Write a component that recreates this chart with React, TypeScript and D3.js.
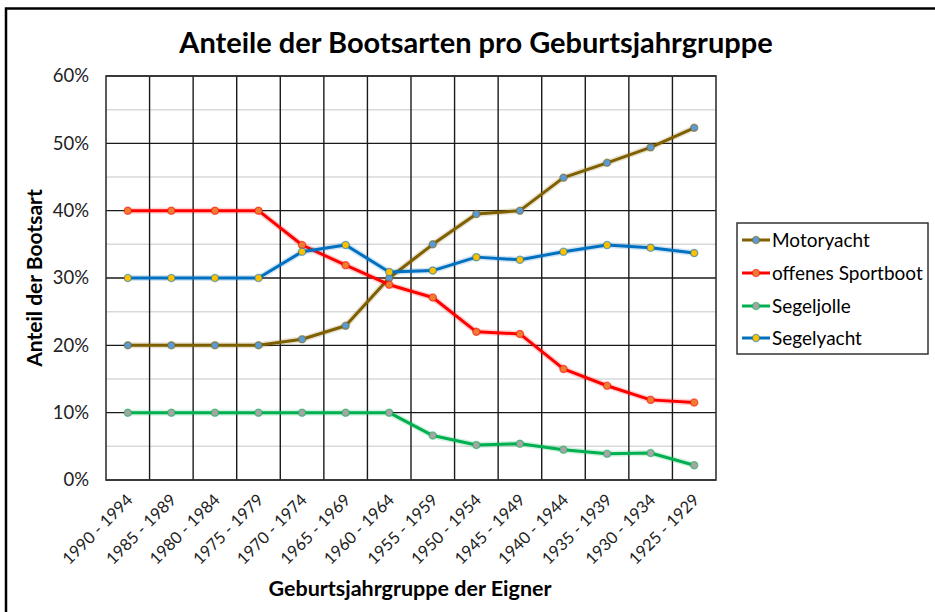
import React from "react";
import * as d3 from "d3";

const categories = [
  "1990 - 1994", "1985 - 1989", "1980 - 1984", "1975 - 1979", "1970 - 1974",
  "1965 - 1969", "1960 - 1964", "1955 - 1959", "1950 - 1954", "1945 - 1949",
  "1940 - 1944", "1935 - 1939", "1930 - 1934", "1925 - 1929",
];
const motoryacht = [20, 20, 20, 20, 20.9, 22.9, 30, 35, 39.5, 40, 44.9, 47.1, 49.4, 52.3];
const sportboot = [40, 40, 40, 40, 34.9, 31.9, 29, 27.1, 22, 21.7, 16.5, 14, 11.9, 11.5];
const segeljolle = [10, 10, 10, 10, 10, 10, 10, 6.6, 5.2, 5.4, 4.5, 3.9, 4, 2.2];
const segelyacht = [30, 30, 30, 30, 33.9, 34.9, 30.9, 31.1, 33.1, 32.7, 33.9, 34.9, 34.5, 33.7];
const yTicks = [0, 10, 20, 30, 40, 50, 60];
const yMinor = [5, 15, 25, 35, 45, 55];

const series = [
  { name: "Motoryacht", values: motoryacht, line: "#7F6000", marker: "#5B9BD5" },
  { name: "offenes Sportboot", values: sportboot, line: "#FF0000", marker: "#ED7D31" },
  { name: "Segeljolle", values: segeljolle, line: "#00B050", marker: "#A5A5A5" },
  { name: "Segelyacht", values: segelyacht, line: "#0070C0", marker: "#FFC000" },
];

const W = 935, H = 612;
const L = 106, R = 716, T = 76, B = 480;
const FONT = "Lato, 'Open Sans', sans-serif";

export default function App() {
  const x = d3.scaleBand<string>().domain(categories).range([L, R]).padding(0);
  const y = d3.scaleLinear().domain([0, 60]).range([B, T]);
  const cx = (c: string) => (x(c) as number) + x.bandwidth() / 2;
  const line = d3
    .line<number>()
    .x((_, i) => cx(categories[i]))
    .y((v) => y(v));

  const legendY = [240, 273, 306, 338];

  return (
    <svg
      width={W}
      height={H}
      style={{ position: "absolute", left: 0, top: 0, background: "#fff" }}
      fontFamily={FONT}
    >
      <rect x={0} y={0} width={W} height={H} fill="#fff" />
      <rect x={6} y={8.5} width={W + 20} height={H + 20} fill="none" stroke="#000" strokeWidth={2.5} />

      <text x={476} y={53} textAnchor="middle" fontSize={29} fontWeight={700} fill="#000">
        Anteile der Bootsarten pro Geburtsjahrgruppe
      </text>

      {/* minor gridlines */}
      {yMinor.map((t) => (
        <line key={"m" + t} x1={L} x2={R} y1={y(t)} y2={y(t)} stroke="#d9d9d9" strokeWidth={1.5} />
      ))}
      {/* vertical gridlines */}
      {categories.map((c, i) =>
        i === 0 ? null : (
          <line key={"v" + c} x1={x(c)} x2={x(c)} y1={T} y2={B} stroke="#1a1a1a" strokeWidth={1.4} />
        )
      )}
      {/* major gridlines */}
      {yTicks.map((t) => (
        <line key={"g" + t} x1={L} x2={R} y1={y(t)} y2={y(t)} stroke="#1a1a1a" strokeWidth={1.4} />
      ))}
      <rect x={L} y={T} width={R - L} height={B - T} fill="none" stroke="#333" strokeWidth={1.6} />

      {/* y tick labels */}
      {yTicks.map((t) => (
        <text key={"yl" + t} x={89} y={y(t)} dy="0.35em" textAnchor="end" fontSize={18.5} fill="#222">
          {t + "%"}
        </text>
      ))}

      {/* x tick labels */}
      {categories.map((c) => (
        <text
          key={"xl" + c}
          transform={`translate(${cx(c) + 6},${501}) rotate(-45)`}
          textAnchor="end"
          fontSize={16.5}
          fill="#222"
        >
          {c}
        </text>
      ))}

      <text
        transform={`translate(42,278) rotate(-90)`}
        textAnchor="middle"
        fontSize={21}
        fontWeight={700}
        fill="#000"
      >
        Anteil der Bootsart
      </text>
      <text x={410} y={596} textAnchor="middle" fontSize={21.5} fontWeight={700} fill="#000">
        Geburtsjahrgruppe der Eigner
      </text>

      {/* series */}
      {series.map((s) => (
        <g key={s.name}>
          <path d={line(s.values) as string} fill="none" stroke={s.line} strokeOpacity={0.18} strokeWidth={6} strokeLinejoin="round" />
          <path d={line(s.values) as string} fill="none" stroke={s.line} strokeWidth={3} strokeLinejoin="round" />
          {s.values.map((v, i) => (
            <circle
              key={i}
              cx={cx(categories[i])}
              cy={y(v)}
              r={3.6}
              fill={s.marker}
              stroke={s.line}
              strokeOpacity={0.55}
              strokeWidth={1.3}
            />
          ))}
        </g>
      ))}

      {/* legend */}
      <rect x={737} y={223} width={191} height={131} fill="#fff" stroke="#333" strokeWidth={1.5} />
      {series.map((s, i) => (
        <g key={"lg" + s.name}>
          <line x1={742} x2={770} y1={legendY[i]} y2={legendY[i]} stroke={s.line} strokeWidth={3} />
          <circle cx={756} cy={legendY[i]} r={3.6} fill={s.marker} stroke={s.line} strokeOpacity={0.55} strokeWidth={1.3} />
          <text x={772} y={legendY[i]} dy="0.35em" fontSize={19} fill="#000">
            {s.name}
          </text>
        </g>
      ))}
    </svg>
  );
}
